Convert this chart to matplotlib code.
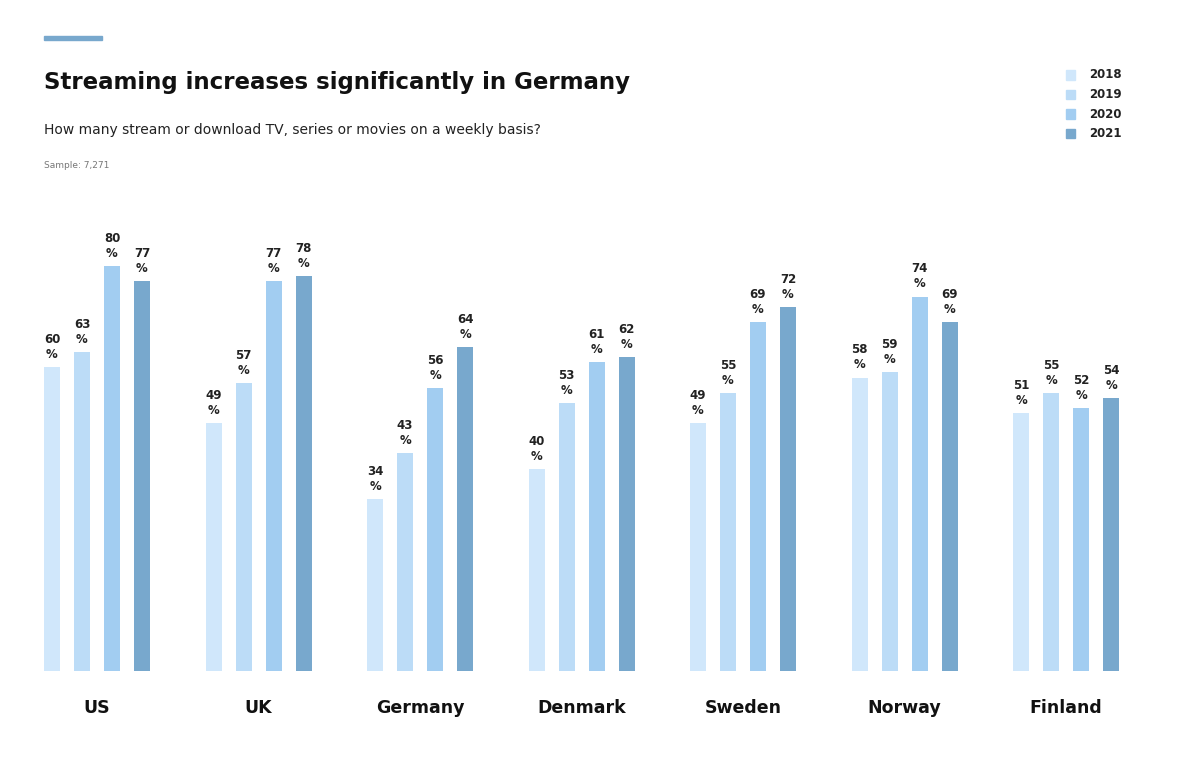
import matplotlib.pyplot as plt
from matplotlib.patches import Rectangle
import numpy as np

countries = ['US', 'UK', 'Germany', 'Denmark', 'Sweden', 'Norway', 'Finland']
years = ['2018', '2019', '2020', '2021']
v2018 = [60, 49, 34, 40, 49, 58, 51]
v2019 = [63, 57, 43, 53, 55, 59, 55]
v2020 = [80, 77, 56, 61, 69, 74, 52]
v2021 = [77, 78, 64, 62, 72, 69, 54]
colors = ['#d0e7fb', '#bcdcf7', '#a2cdf1', '#78a8cd']

fig = plt.figure(figsize=(12, 7.79), dpi=100)
ax = fig.add_axes([44/1200, 1-671/779, 1075/1200, 506/779])

gstep = 161.5/30
w = 16/30
for j, vals in enumerate([v2018, v2019, v2020, v2021]):
    xs = np.arange(len(countries))*gstep + j
    ax.bar(xs, vals, width=w, color=colors[j])
    for x, v in zip(xs, vals):
        ax.text(x, v + 1.2, f'{v}\n%', ha='center', va='bottom', fontsize=8.5,
                fontweight='bold', color='#222222', linespacing=1.2)
for i, c in enumerate(countries):
    ax.text(i*gstep + 1.5, -7.3, c, ha='center', va='center', fontsize=12.5,
            fontweight='bold', color='#111111')
ax.set_xlim(-w/2, 6*gstep + 3 + w/2)
ax.set_ylim(0, 100)
ax.axis('off')

fig.patches.append(Rectangle((44/1200, 1-40/779), 58/1200, 4/779,
                             transform=fig.transFigure, color='#78a8cd'))
fig.text(44/1200, 1-82/779, 'Streaming increases significantly in Germany',
         fontsize=16.5, fontweight='bold', va='center', color='#111111')
fig.text(44/1200, 1-130/779,
         'How many stream or download TV, series or movies on a weekly basis?',
         fontsize=10, va='center', color='#222222')
fig.text(44/1200, 1-166/779, 'Sample: 7,271', fontsize=6.5, va='center', color='#777777')
for j, y in enumerate(years):
    yy = 1 - (75 + j*19.5)/779
    fig.patches.append(Rectangle((1066/1200, yy - 4.5/779), 9/1200, 9/779,
                                 transform=fig.transFigure, color=colors[j]))
    fig.text(1089/1200, yy, y, fontsize=8.5, fontweight='bold', va='center', color='#222222')

fig.savefig('out.png')
